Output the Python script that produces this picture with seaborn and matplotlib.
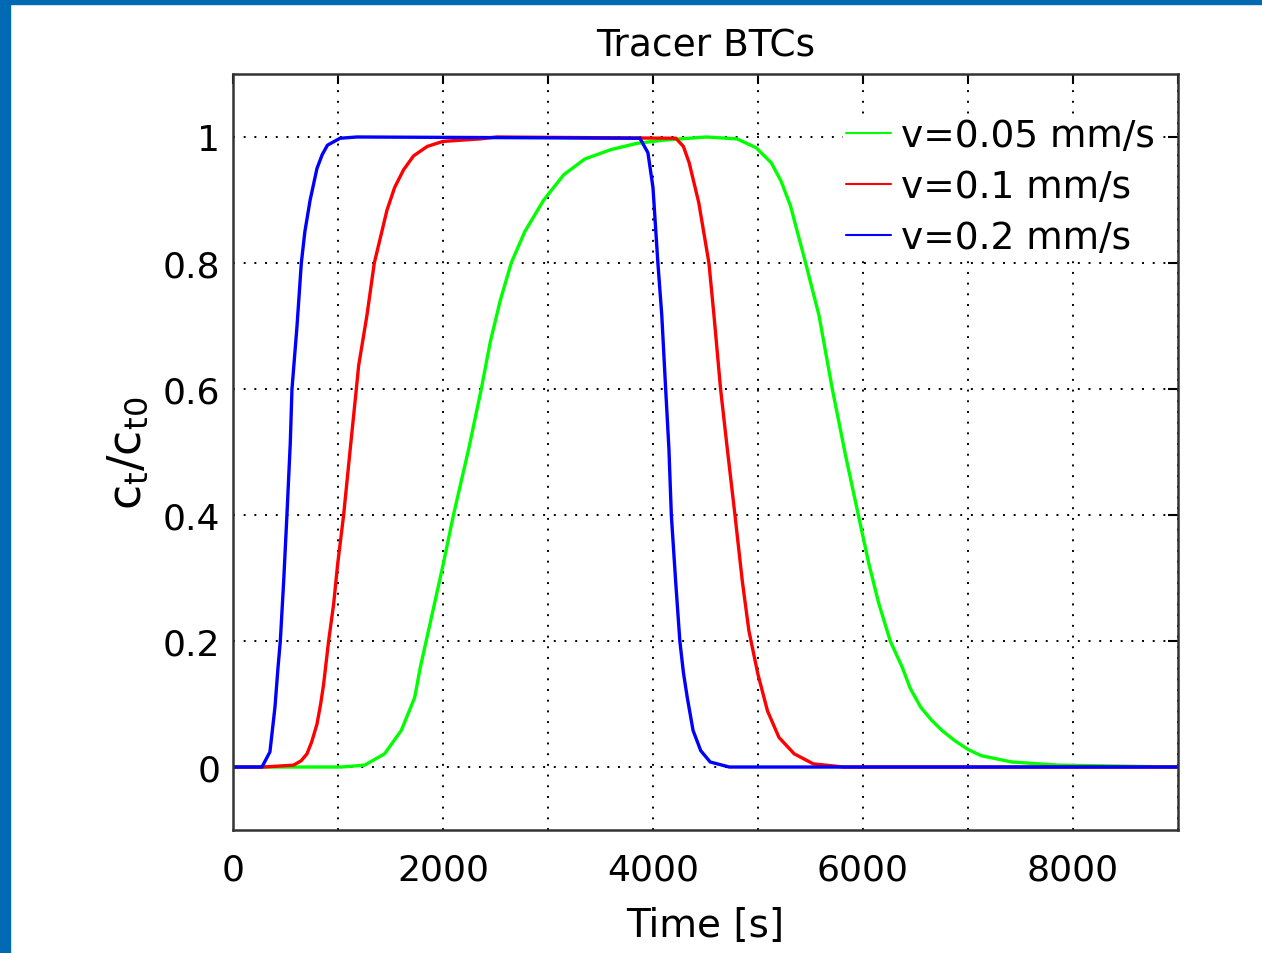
import pandas as pd
import matplotlib.pyplot as plt
import seaborn as sns
from matplotlib.patches import Rectangle
from matplotlib.ticker import FuncFormatter

# Curvas de llegada del trazador
t_005 = [0, 1032, 1254, 1444, 1603, 1730, 1784, 1840, 1911, 2000, 2100, 2245, 2365,
         2451, 2545, 2650, 2780, 2960, 3150, 3350, 3600, 3850, 4100, 4509, 4800,
         4982, 5127, 5220, 5309, 5454, 5581, 5708, 5835, 5956, 6057, 6150, 6260, 6375,
         6450, 6550, 6655, 6760, 6873, 7000, 7127, 7418, 7855, 9000]
c_005 = [0, 0, 0.003, 0.021, 0.058, 0.11, 0.158, 0.2, 0.253, 0.32, 0.4, 0.505, 0.6,
         0.675, 0.74, 0.8, 0.85, 0.9, 0.94, 0.965, 0.98, 0.99, 0.995, 1.0,
         0.997, 0.983, 0.959, 0.93, 0.891, 0.8, 0.717, 0.6, 0.494, 0.4, 0.322, 0.26, 0.2,
         0.158, 0.125, 0.095, 0.074, 0.057, 0.042, 0.028, 0.018, 0.008, 0.003, 0]

t_01 = [0, 292, 578, 650, 705, 750, 800, 835, 863, 911, 959, 997, 1054, 1117, 1175,
        1197, 1276, 1346, 1467, 1540, 1625, 1720, 1850, 2000, 2356, 2514, 4218, 4290,
        4345, 4436, 4533, 4581, 4644, 4708, 4781, 4851, 4914, 5000, 5091, 5200, 5345,
        5527, 5818, 9000]
c_01 = [0, 0, 0.003, 0.01, 0.021, 0.04, 0.068, 0.1, 0.131, 0.2, 0.259, 0.322, 0.4,
        0.505, 0.6, 0.637, 0.717, 0.8, 0.884, 0.92, 0.948, 0.97, 0.985, 0.993, 0.997,
        1.0, 0.998, 0.985, 0.959, 0.896, 0.8, 0.717, 0.6, 0.505, 0.4, 0.295, 0.216,
        0.147, 0.089, 0.047, 0.021, 0.005, 0.0, 0]

t_02 = [0, 276, 352, 400, 429, 451, 483, 514, 546, 562, 610, 651, 685, 735, 800, 850,
        900, 1020, 1180, 3876, 3952, 4000, 4047, 4084, 4121, 4152, 4175, 4216, 4256,
        4290, 4327, 4382, 4455, 4545, 4727, 9000]
c_02 = [0, 0, 0.024, 0.095, 0.158, 0.2, 0.295, 0.4, 0.515, 0.6, 0.7, 0.8, 0.85, 0.9,
        0.95, 0.972, 0.987, 0.998, 1.0, 0.998, 0.975, 0.92, 0.8, 0.717, 0.6, 0.505,
        0.4, 0.295, 0.2, 0.15, 0.11, 0.058, 0.026, 0.008, 0, 0]

etiquetas = ['v=0.05 mm/s', 'v=0.1 mm/s', 'v=0.2 mm/s']
colores = ['#00ff00', '#ff0000', '#0000ff']
x_ticks = [0, 1000, 2000, 3000, 4000, 5000, 6000, 7000, 8000, 9000]
x_labels = ['0', '', '2000', '', '4000', '', '6000', '', '8000', '']
y_ticks = [0, 0.2, 0.4, 0.6, 0.8, 1.0]

# Tabla larga para seaborn
partes = []
for t, c, nombre in zip([t_005, t_01, t_02], [c_005, c_01, c_02], etiquetas):
    partes.append(pd.DataFrame({'t': t, 'c': c, 'serie': nombre}))
datos = pd.concat(partes, ignore_index=True)

sns.set_theme(style='white', rc={'text.color': 'black', 'axes.labelcolor': 'black',
                                 'xtick.color': 'black', 'ytick.color': 'black'})
plt.rcParams['font.family'] = ['DejaVu Sans']
plt.rcParams['mathtext.default'] = 'regular'

fig = plt.figure(figsize=(12.62, 9.54), dpi=100)
ax = fig.add_axes([0.1846, 0.1289, 0.7488, 0.7925])

sns.lineplot(data=datos, x='t', y='c', hue='serie', hue_order=etiquetas,
             palette=colores, estimator=None, linewidth=2.4, ax=ax)

ax.set_xlim(0, 9000)
ax.set_ylim(-0.1, 1.1)
ax.set_xticks(x_ticks)
ax.set_xticklabels(x_labels)
ax.set_yticks(y_ticks)
ax.yaxis.set_major_formatter(FuncFormatter(lambda v, p: f'{v:g}'))
ax.tick_params(direction='in', length=7, width=1.5, top=True, right=True,
               labelsize=26, colors='black')
ax.tick_params(axis='x', pad=16)
ax.tick_params(axis='y', pad=9)
ax.grid(True, linestyle=(0, (1, 4.5)), color='black', linewidth=1.4)
ax.set_axisbelow(True)
for lado in ax.spines.values():
    lado.set_color('#333333')
    lado.set_linewidth(1.8)

ax.set_title('Tracer BTCs', fontsize=27, pad=13)
ax.set_xlabel('Time [s]', fontsize=28, labelpad=14)
ax.set_ylabel(r'$c_t/c_{t0}$', fontsize=33, labelpad=9)

leyenda = ax.legend(loc='upper right', bbox_to_anchor=(0.98, 0.947), fontsize=27,
                    frameon=True, fancybox=False, edgecolor='none', framealpha=1,
                    handlelength=1.2, handletextpad=0.27, labelspacing=0.4,
                    borderpad=0.1, borderaxespad=0)
for linea in leyenda.get_lines():
    linea.set_linewidth(1.5)

# Marco azul de la diapositiva
fig.add_artist(Rectangle((0, 0), 10 / 1262, 1, transform=fig.transFigure,
                         color='#0069b4', zorder=10))
fig.add_artist(Rectangle((0, 1 - 5 / 954), 1, 5 / 954, transform=fig.transFigure,
                         color='#0069b4', zorder=10))

fig.savefig('out.png', dpi=100)
